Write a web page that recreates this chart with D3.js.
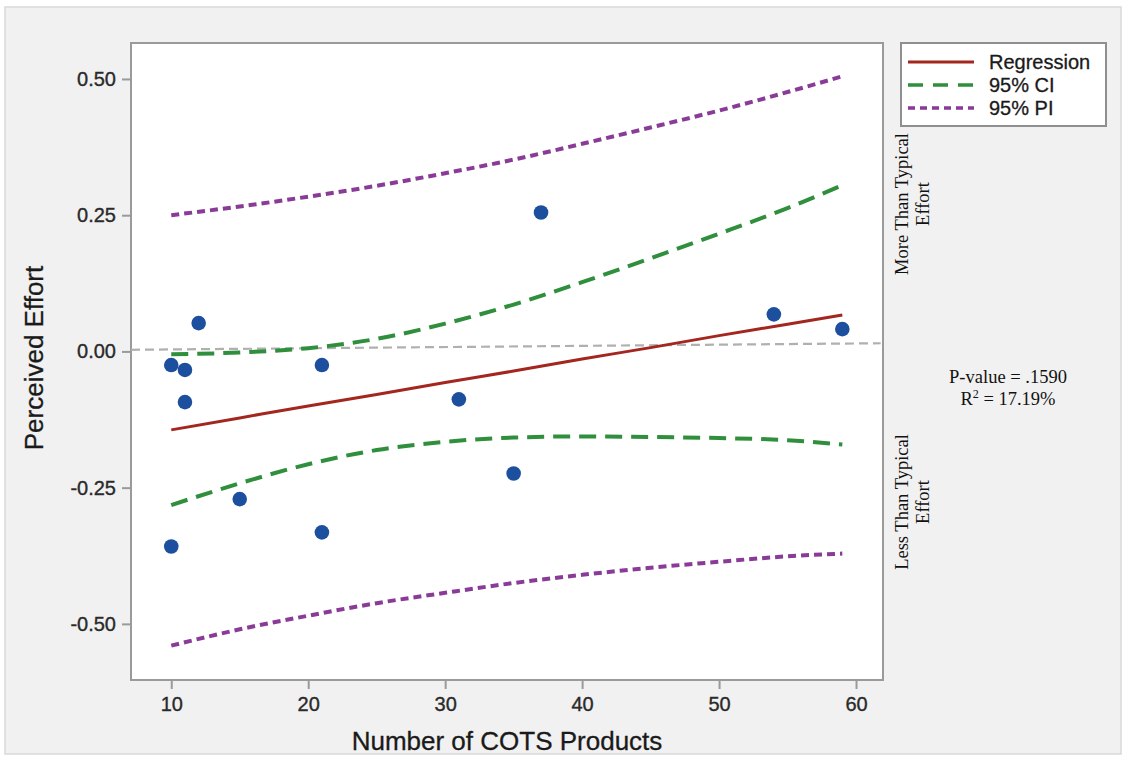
<!DOCTYPE html>
<html>
<head>
<meta charset="utf-8">
<script src="https://cdn.jsdelivr.net/npm/d3@7"></script>
<style>
    body { margin: 0; background: #ffffff; }
    svg text { font-family: "Liberation Sans", Arial, sans-serif; }
    .serif { font-family: "Liberation Serif", "Times New Roman", serif; }
</style>
</head>
<body>
<svg id="chart" width="1127" height="759"></svg>
<script>
// observed points: number of COTS products vs perceived effort
const cotsCount = [10, 11, 12, 11, 15, 10, 21, 21, 31, 35, 37, 54, 59];
const effort = [-0.025, -0.034, 0.052, -0.093, -0.271, -0.358, -0.025, -0.332, -0.088, -0.224, 0.255, 0.068, 0.041];

// fitted curves read at these x positions
const curveX = [10, 15, 20, 25, 30, 35, 40, 45, 50, 55, 59];
const regression = [-0.144, -0.122, -0.100, -0.079, -0.057, -0.036, -0.014, 0.007, 0.029, 0.050, 0.067];
const ciUpper = [-0.005, -0.002, 0.006, 0.023, 0.051, 0.086, 0.127, 0.171, 0.216, 0.263, 0.305];
const ciLower = [-0.282, -0.242, -0.207, -0.181, -0.166, -0.158, -0.156, -0.157, -0.159, -0.163, -0.171];
const piUpper = [0.250, 0.266, 0.284, 0.304, 0.327, 0.352, 0.381, 0.411, 0.442, 0.476, 0.505];
const piLower = [-0.540, -0.510, -0.485, -0.462, -0.443, -0.425, -0.410, -0.397, -0.386, -0.376, -0.371];

// dashed reference at zero effort (drawn slightly tilted in the original)
const refX = [7.06, 61.8];
const refY = [0.003, 0.015];

const xTicks = [10, 20, 30, 40, 50, 60];
const yTicks = [0.5, 0.25, 0, -0.25, -0.5];
const legendLabels = ["Regression", "95% CI", "95% PI"];

const svg = d3.select("#chart");

const plot = { left: 131, top: 43, right: 883, bottom: 680 };

// outer panel
svg.append("rect")
    .attr("x", 5).attr("y", 7)
    .attr("width", 1116).attr("height", 747)
    .attr("fill", "#f1f1f1")
    .attr("stroke", "#d9d9d9")
    .attr("stroke-width", 1.5);

svg.append("rect")
    .attr("x", plot.left).attr("y", plot.top)
    .attr("width", plot.right - plot.left)
    .attr("height", plot.bottom - plot.top)
    .attr("fill", "#ffffff");

const x = d3.scaleLinear().domain([7.06, 61.97]).range([plot.left, plot.right]);
const y = d3.scaleLinear().domain([-0.603, 0.566]).range([plot.bottom, plot.top]);

const xAxis = d3.axisBottom(x).tickValues(xTicks).tickSize(9).tickPadding(6).tickFormat(d3.format("d"));
const yAxis = d3.axisLeft(y).tickValues(yTicks).tickSize(9).tickPadding(6)
    .tickFormat(d => d3.format(".2f")(d).replace("\u2212", "-"));

const gx = svg.append("g")
    .attr("transform", `translate(0,${plot.bottom})`)
    .call(xAxis);
const gy = svg.append("g")
    .attr("transform", `translate(${plot.left},0)`)
    .call(yAxis);

[gx, gy].forEach(g => {
    g.select(".domain").remove();
    g.selectAll(".tick line").attr("stroke", "#9a9a9a").attr("stroke-width", 2);
    g.selectAll(".tick text")
        .attr("fill", "#2a2a2a")
        .attr("stroke", "#2a2a2a")
        .attr("stroke-width", 0.35)
        .style("font-size", "20px");
});
gx.selectAll(".tick text").attr("dy", "0.82em");

// plot border
svg.append("rect")
    .attr("x", plot.left).attr("y", plot.top)
    .attr("width", plot.right - plot.left)
    .attr("height", plot.bottom - plot.top)
    .attr("fill", "none")
    .attr("stroke", "#9a9a9a")
    .attr("stroke-width", 2);

const line = d3.line().x(d => x(d[0])).y(d => y(d[1])).curve(d3.curveMonotoneX);

svg.append("path")
    .datum(refX.map((v, i) => [v, refY[i]]))
    .attr("d", line)
    .attr("fill", "none")
    .attr("stroke", "#b0b0b0")
    .attr("stroke-width", 2.2)
    .attr("stroke-dasharray", "9,5");

const curves = [
    { values: piUpper, color: "#8a3a97", dash: "8,5", width: 4 },
    { values: piLower, color: "#8a3a97", dash: "8,5", width: 4 },
    { values: ciUpper, color: "#2f8f3c", dash: "17,9", width: 4 },
    { values: ciLower, color: "#2f8f3c", dash: "17,9", width: 4 },
    { values: regression, color: "#a3261f", dash: null, width: 3 }
];

curves.forEach(c => {
    svg.append("path")
        .datum(curveX.map((v, i) => [v, c.values[i]]))
        .attr("d", line)
        .attr("fill", "none")
        .attr("stroke", c.color)
        .attr("stroke-width", c.width)
        .attr("stroke-dasharray", c.dash);
});

svg.selectAll(".dot")
    .data(cotsCount.map((v, i) => [v, effort[i]]))
    .enter()
    .append("circle")
    .attr("class", "dot")
    .attr("cx", d => x(d[0]))
    .attr("cy", d => y(d[1]))
    .attr("r", 7.3)
    .attr("fill", "#1c4f9e");

// axis titles
svg.append("text")
    .attr("x", (plot.left + plot.right) / 2)
    .attr("y", 750)
    .attr("text-anchor", "middle")
    .attr("fill", "#1a1a1a")
    .attr("stroke", "#1a1a1a")
    .attr("stroke-width", 0.3)
    .style("font-size", "26px")
    .text("Number of COTS Products");

svg.append("text")
    .attr("transform", "translate(43,358) rotate(-90)")
    .attr("text-anchor", "middle")
    .attr("fill", "#1a1a1a")
    .attr("stroke", "#1a1a1a")
    .attr("stroke-width", 0.3)
    .style("font-size", "26px")
    .text("Perceived Effort");

// legend
const legend = svg.append("g");
legend.append("rect")
    .attr("x", 901).attr("y", 43)
    .attr("width", 205).attr("height", 83)
    .attr("fill", "#ffffff")
    .attr("stroke", "#8f8f8f")
    .attr("stroke-width", 2);

const legendStyles = [
    { color: "#a3261f", dash: null, width: 3 },
    { color: "#2f8f3c", dash: "15,10", width: 3.5 },
    { color: "#8a3a97", dash: "7,5", width: 3.5 }
];

legendLabels.forEach((label, i) => {
    const ly = 62 + i * 23;
    legend.append("line")
        .attr("x1", 908).attr("x2", 974)
        .attr("y1", ly).attr("y2", ly)
        .attr("stroke", legendStyles[i].color)
        .attr("stroke-width", legendStyles[i].width)
        .attr("stroke-dasharray", legendStyles[i].dash);
    legend.append("text")
        .attr("x", 989)
        .attr("y", ly + 7)
        .attr("fill", "#1a1a1a")
        .attr("stroke", "#1a1a1a")
        .attr("stroke-width", 0.3)
        .style("font-size", "20px")
        .text(label);
});

// side annotations
function sideNote(cy, lines) {
    lines.forEach((t, i) => {
        svg.append("text")
            .attr("class", "serif")
            .attr("transform", `translate(${908 + i * 21},${cy}) rotate(-90)`)
            .attr("text-anchor", "middle")
            .attr("fill", "#111")
            .style("font-size", "18.5px")
            .text(t);
    });
}
sideNote(204, ["More Than Typical", "Effort"]);
sideNote(502, ["Less Than Typical", "Effort"]);

svg.append("text")
    .attr("class", "serif")
    .attr("x", 1008).attr("y", 383)
    .attr("text-anchor", "middle")
    .attr("fill", "#111")
    .style("font-size", "18.5px")
    .text("P-value = .1590");

const r2 = svg.append("text")
    .attr("class", "serif")
    .attr("x", 1008).attr("y", 405)
    .attr("text-anchor", "middle")
    .attr("fill", "#111")
    .style("font-size", "18.5px");
r2.append("tspan").text("R");
r2.append("tspan").attr("dy", -7).style("font-size", "12px").text("2");
r2.append("tspan").attr("dy", 7).text(" = 17.19%");
</script>
</body>
</html>
